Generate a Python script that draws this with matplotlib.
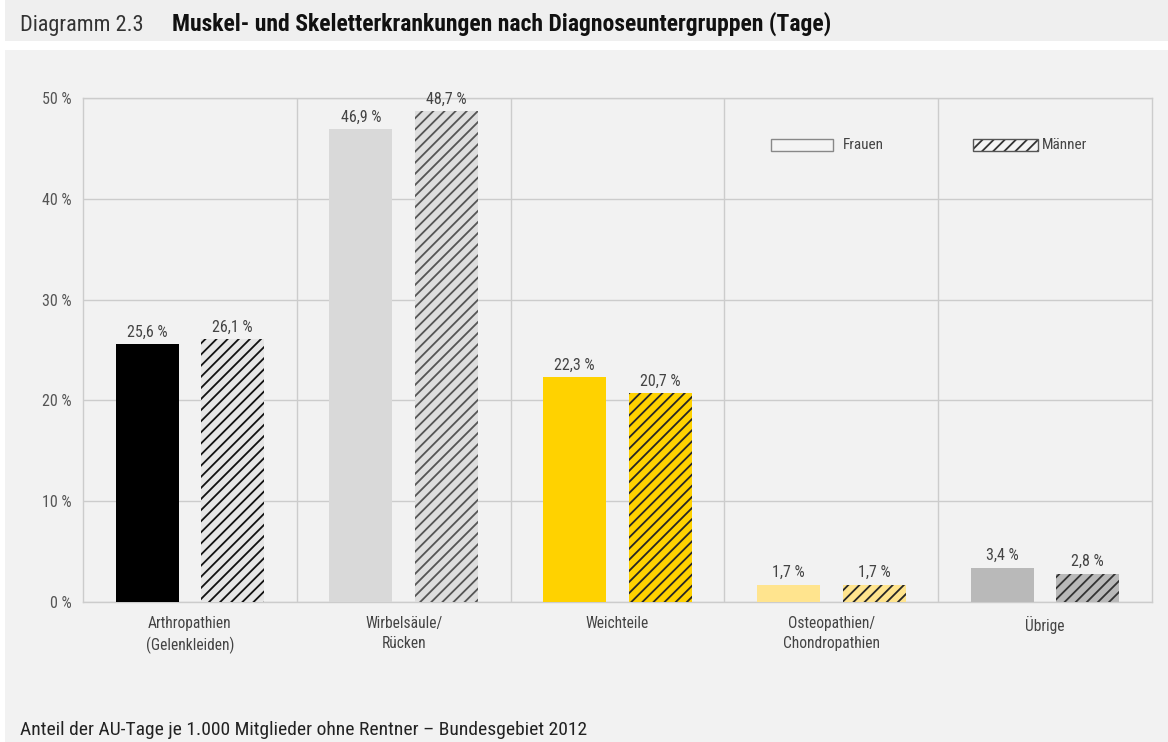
import matplotlib.pyplot as plt
from matplotlib.patches import Rectangle
import numpy as np

plt.rcParams['font.family'] = ['Roboto Condensed', 'Liberation Sans Narrow', 'Roboto', 'DejaVu Sans']
plt.rcParams['hatch.linewidth'] = 1.3

categories = ["Arthropathien\n(Gelenkleiden)", "Wirbelsäule/\nRücken", "Weichteile",
              "Osteopathien/\nChondropathien", "Übrige"]
frauen = [25.6, 46.9, 22.3, 1.7, 3.4]
maenner = [26.1, 48.7, 20.7, 1.7, 2.8]
yticks = [0, 10, 20, 30, 40, 50]

frauen_colors = ["#000000", "#d9d9d9", "#ffd200", "#ffe48e", "#b9b9b9"]
maenner_faces = ["#e6e6e6", "#dedede", "#ffd200", "#ffe48e", "#b9b9b9"]
maenner_hatch = ["#111111", "#555555", "#262626", "#262626", "#333333"]

W, H = 1168, 742
fig = plt.figure(figsize=(W / 100, H / 100), dpi=100, facecolor="white")

# title band and grey panel
fig.add_artist(Rectangle((5 / W, 1 - 41 / H), 1, 41 / H, transform=fig.transFigure,
                         facecolor="#efefef", edgecolor="none", zorder=0))
fig.add_artist(Rectangle((5 / W, 0), 1, 1 - 50 / H, transform=fig.transFigure,
                         facecolor="#f2f2f2", edgecolor="none", zorder=0))

fig.text(20 / W, 1 - 31 / H, "Diagramm 2.3", fontsize=16, color="#333333", va="baseline")
fig.text(172 / W, 1 - 31 / H, "Muskel- und Skeletterkrankungen nach Diagnoseuntergruppen (Tage)",
         fontsize=17, fontweight="bold", color="#111111", va="baseline")
fig.text(20 / W, 1 - 735 / H, "Anteil der AU-Tage je 1.000 Mitglieder ohne Rentner \u2013 Bundesgebiet 2012",
         fontsize=14, color="#222222", va="baseline")

ax = fig.add_axes([83 / W, 1 - 602 / H, (1152 - 83) / W, (602 - 98) / H])
ax.set_facecolor("#f2f2f2")
ax.patch.set_alpha(0)

x = np.arange(len(categories))
off = 0.2
bw = 0.295

ax.bar(x - off, frauen, bw, color=frauen_colors, linewidth=0, zorder=3)
for i in range(len(categories)):
    ax.bar(x[i] + off, maenner[i], bw, facecolor=maenner_faces[i], edgecolor=maenner_hatch[i],
           hatch="///", linewidth=0, zorder=3)

for xi, v in zip(x - off, frauen):
    ax.text(xi, v + 0.45, f"{v:.1f} %".replace(".", ","), ha="center", va="bottom",
            fontsize=11.5, color="#444444")
for xi, v in zip(x + off, maenner):
    ax.text(xi, v + 0.45, f"{v:.1f} %".replace(".", ","), ha="center", va="bottom",
            fontsize=11.5, color="#444444")

ax.set_xlim(-0.5, len(categories) - 0.5)
ax.set_ylim(0, 50)
ax.set_yticks(yticks)
ax.set_yticklabels([f"{t} %" for t in yticks], fontsize=11.5, color="#555555")
ax.set_xticks(x)
ax.set_xticklabels(categories, fontsize=11.2, color="#444444", linespacing=1.45)
ax.tick_params(length=0)
ax.tick_params(axis="y", pad=8)
ax.tick_params(axis="x", pad=10)

ax.grid(axis="y", color="#cccccc", linewidth=1, zorder=1)
for b in np.arange(0.5, len(categories) - 0.5):
    ax.axvline(b, color="#cccccc", linewidth=1, zorder=1)
for s in ax.spines.values():
    s.set_color("#cccccc")
    s.set_linewidth(1)

# legend
ax.add_patch(Rectangle((2.72, 44.7), 0.29, 1.2, facecolor="#f4f4f4", edgecolor="#888888",
                       linewidth=1, zorder=4))
ax.text(3.055, 45.3, "Frauen", fontsize=11, color="#444444", va="center")
ax.add_patch(Rectangle((3.665, 44.7), 0.3, 1.2, facecolor="#f4f4f4", edgecolor="#333333",
                       hatch="///", linewidth=0, zorder=4))
ax.add_patch(Rectangle((3.665, 44.7), 0.3, 1.2, facecolor="none", edgecolor="#555555",
                       linewidth=1, zorder=5))
ax.text(3.985, 45.3, "Männer", fontsize=11, color="#444444", va="center")

fig.savefig("out.png", dpi=100, facecolor=fig.get_facecolor())
